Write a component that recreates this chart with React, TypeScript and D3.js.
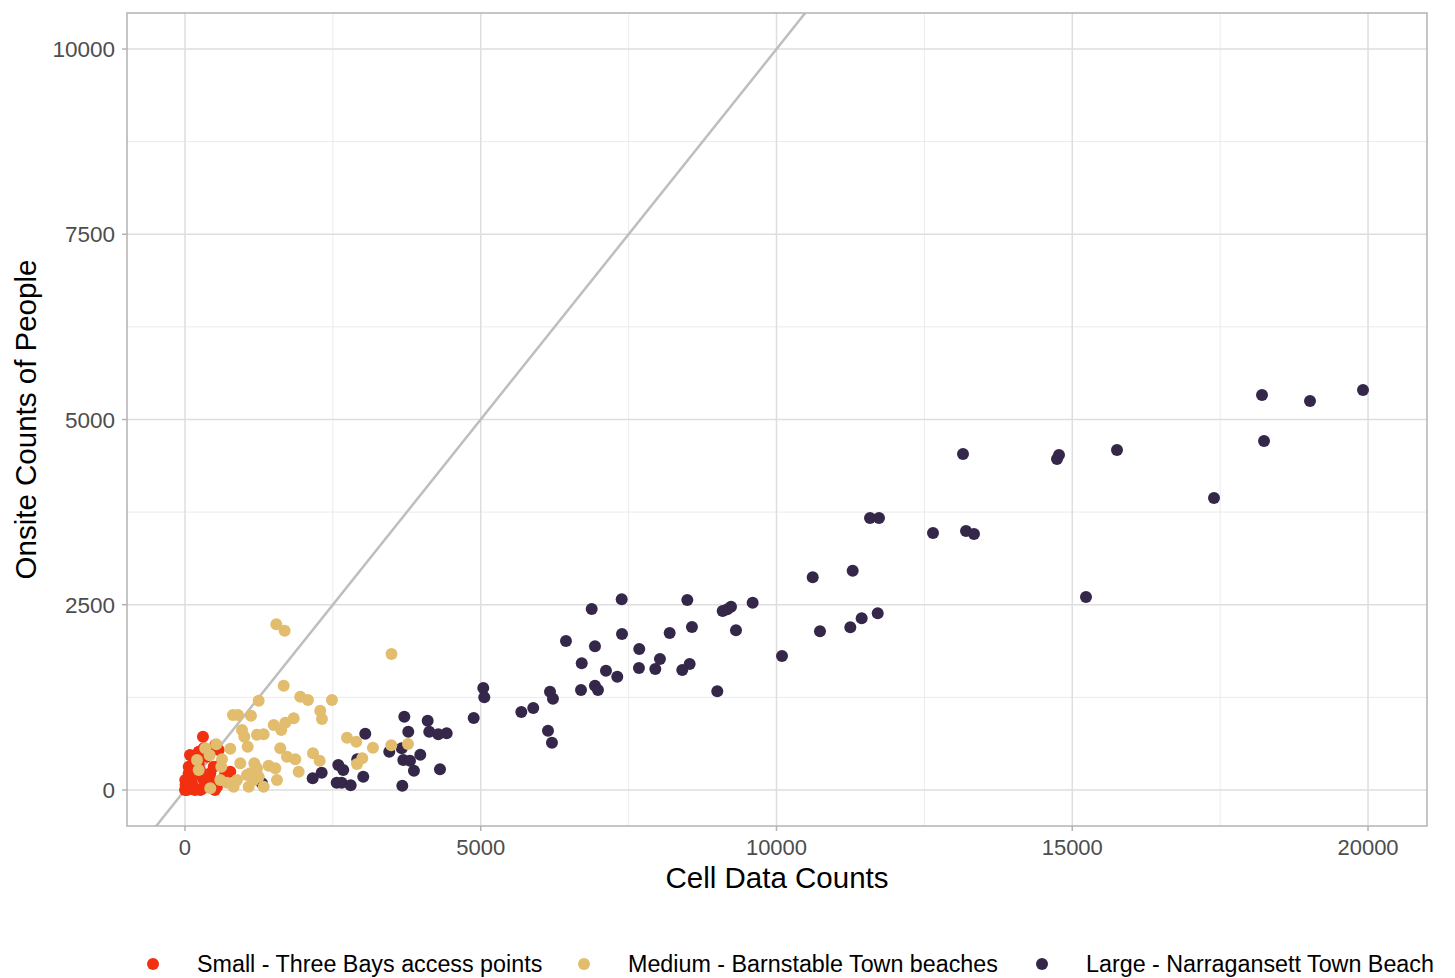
import React from "react";
import * as d3 from "d3";

const xTicks = [0, 5000, 10000, 15000, 20000];
const yTicks = [0, 2500, 5000, 7500, 10000];
const xMinor = [2500, 7500, 12500, 17500];
const yMinor = [1250, 3750, 6250, 8750];

const seriesNames = [
  "Small - Three Bays access points",
  "Medium - Barnstable Town beaches",
  "Large - Narragansett Town Beach",
];
const seriesColors = ["#F2300F", "#E1BD6D", "#35274A"];

const largeX = [19915, 18208, 19019, 18242, 17396, 15756, 14742, 14776, 13153, 15232, 12646, 13204, 13339, 11581, 11733, 10612, 11288, 11248, 11440, 11711, 10735, 10093, 9597, 9231, 9168, 9090, 9315, 8999, 8492, 8571, 8194, 8532, 8407, 8030, 7951, 7680, 7675, 7383, 7388, 7308, 7117, 6876, 6931, 6707, 6931, 6982, 6695, 6441, 6171, 6221, 6137, 6204, 5888, 5686, 4881, 5043, 5060, 4424, 4311, 3708, 4103, 3775, 4130, 4282, 3978, 3664, 3454, 3691, 3804, 3871, 3674, 3048, 3014, 2592, 2676, 2565, 2649, 2801, 2311, 2159, 2913, 1302];
const largeY = [5398, 5331, 5250, 4710, 3941, 4588, 4467, 4521, 4534, 2605, 3468, 3495, 3455, 3671, 3671, 2870, 2959, 2196, 2317, 2385, 2142, 1808, 2528, 2474, 2439, 2416, 2155, 1332, 2564, 2200, 2119, 1700, 1619, 1768, 1633, 1903, 1646, 2573, 2105, 1529, 1610, 2443, 1939, 1710, 1408, 1350, 1350, 2011, 1327, 1232, 800, 638, 1107, 1053, 972, 1376, 1251, 765, 279, 989, 935, 787, 787, 752, 476, 563, 517, 405, 395, 260, 58, 760, 179, 337, 270, 99, 99, 63, 233, 158, 414, 90];

const smallX = [304, 316, 232, 372, 147, 512, 570, 63, 63, 5, 10, 34, 147, 203, 316, 428, 485, 372, 541, 766, 232, 118, 259, 456, 85, 676, 169, 507, 0, 51, 254, 592, 90, 130, 420, 300];
const smallY = [719, 563, 517, 449, 405, 607, 540, 314, 225, 135, 67, 0, 45, 225, 135, 225, 314, 67, 45, 247, 360, 135, 0, 112, 472, 202, 0, 0, 0, 108, 270, 337, 290, 30, 160, 20];

const mediumX = [1544, 1685, 3491, 1669, 1246, 1949, 2079, 2485, 2287, 2316, 811, 896, 1116, 1838, 1696, 1500, 1628, 964, 1003, 1217, 1330, 1060, 766, 1611, 1724, 1865, 2164, 2277, 2739, 2896, 3178, 3488, 3770, 2997, 2908, 529, 343, 418, 626, 614, 203, 935, 1172, 1217, 1104, 1415, 1527, 1555, 1922, 1048, 879, 710, 823, 1077, 1330, 232, 428, 597, 1246, 1161];
const mediumY = [2236, 2150, 1835, 1408, 1205, 1259, 1215, 1215, 1070, 958, 1012, 1012, 1003, 968, 908, 877, 810, 810, 719, 746, 752, 584, 557, 563, 449, 414, 495, 395, 706, 652, 571, 603, 621, 428, 351, 617, 563, 468, 414, 314, 405, 360, 360, 293, 225, 328, 293, 135, 247, 202, 135, 99, 45, 45, 45, 270, 23, 135, 179, 135];

const W = 1455;
const H = 978;
const left = 127, right = 1427, top = 13, bottom = 826;

export default function App() {
  const x = d3.scaleLinear().domain([-980, 20997]).range([left, right]);
  const y = d3.scaleLinear().domain([-486, 10486]).range([bottom, top]);

  const small = smallX.map((v, i) => [v, smallY[i]]);
  const medium = mediumX.map((v, i) => [v, mediumY[i]]);
  const large = largeX.map((v, i) => [v, largeY[i]]);

  const layers = [
    { data: large, color: seriesColors[2] },
    { data: small, color: seriesColors[0] },
    { data: medium, color: seriesColors[1] },
  ];

  const lineStart = -486;
  const lineEnd = 10486;

  const font = "'Liberation Sans', Arial, sans-serif";
  const legendX = [153, 584, 1042];

  return (
    <svg width={W} height={H} style={{ position: "absolute", left: 0, top: 0, background: "#fff" }} fontFamily={font}>
      <defs>
        <clipPath id="panel">
          <rect x={left} y={top} width={right - left} height={bottom - top} />
        </clipPath>
      </defs>
      {xMinor.map((t) => (
        <line key={"xm" + t} x1={x(t)} x2={x(t)} y1={top} y2={bottom} stroke="#EBEBEB" strokeWidth={1} />
      ))}
      {yMinor.map((t) => (
        <line key={"ym" + t} x1={left} x2={right} y1={y(t)} y2={y(t)} stroke="#EBEBEB" strokeWidth={1} />
      ))}
      {xTicks.map((t) => (
        <line key={"xg" + t} x1={x(t)} x2={x(t)} y1={top} y2={bottom} stroke="#DEDEDE" strokeWidth={1.5} />
      ))}
      {yTicks.map((t) => (
        <line key={"yg" + t} x1={left} x2={right} y1={y(t)} y2={y(t)} stroke="#DEDEDE" strokeWidth={1.5} />
      ))}
      <g clipPath="url(#panel)">
        <line x1={x(lineStart)} y1={y(lineStart)} x2={x(lineEnd)} y2={y(lineEnd)} stroke="#BEBEBE" strokeWidth={2.5} />
        {layers.map((layer, li) =>
          layer.data.map((d, i) => (
            <circle key={li + "-" + i} cx={x(d[0])} cy={y(d[1])} r={6} fill={layer.color} />
          ))
        )}
      </g>
      <rect x={left} y={top} width={right - left} height={bottom - top} fill="none" stroke="#B3B3B3" strokeWidth={1.5} />
      {xTicks.map((t) => (
        <g key={"xt" + t}>
          <line x1={x(t)} x2={x(t)} y1={bottom} y2={bottom + 5} stroke="#B3B3B3" strokeWidth={1.5} />
          <text x={x(t)} y={bottom + 29} textAnchor="middle" fontSize={22} fill="#4D4D4D">{t}</text>
        </g>
      ))}
      {yTicks.map((t) => (
        <g key={"yt" + t}>
          <line x1={left - 5} x2={left} y1={y(t)} y2={y(t)} stroke="#B3B3B3" strokeWidth={1.5} />
          <text x={left - 12} y={y(t)} dy="0.36em" textAnchor="end" fontSize={22.5} fill="#4D4D4D">{t}</text>
        </g>
      ))}
      <text x={(left + right) / 2} y={888} textAnchor="middle" fontSize={29.5} fill="#000">Cell Data Counts</text>
      <text transform={`translate(36, ${(top + bottom) / 2}) rotate(-90)`} textAnchor="middle" fontSize={29.5} fill="#000">Onsite Counts of People</text>
      {seriesNames.map((name, i) => (
        <g key={name}>
          <circle cx={legendX[i]} cy={964} r={6} fill={seriesColors[i]} />
          <text x={legendX[i] + 44} y={964} dy="0.36em" fontSize={23.3} fill="#000">{name}</text>
        </g>
      ))}
    </svg>
  );
}
